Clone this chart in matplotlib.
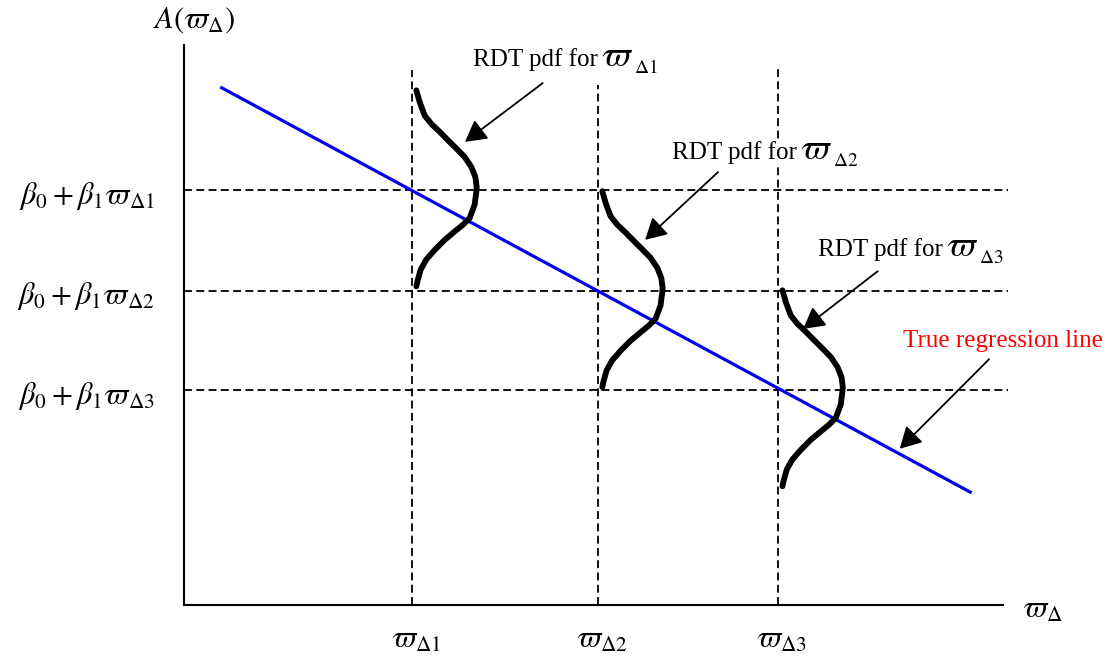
import numpy as np
import matplotlib.pyplot as plt

plt.rcParams['font.family'] = ['Liberation Serif', 'DejaVu Serif']
plt.rcParams['mathtext.fontset'] = 'stix'

# regression line A = b0 + b1 * w  (axis units 0..100)
b0 = 96.0
b1 = -0.79
line_x = [4.6, 96.0]

# the three omega values and their levels on the line
omegas = [27.8, 50.5, 72.5]
levels = [74.1, 56.1, 38.4]
vline_tops = [95.5, 92.9, 95.9]
x_labels = [r'$\varpi_{\Delta 1}$', r'$\varpi_{\Delta 2}$', r'$\varpi_{\Delta 3}$']
y_labels = [r'$\beta_0 + \beta_1\varpi_{\Delta 1}$',
            r'$\beta_0 + \beta_1\varpi_{\Delta 2}$',
            r'$\beta_0 + \beta_1\varpi_{\Delta 3}$']

# pdf shape: height above level, sideways offset
pdf_dy = [17.8, 15.7, 13.3, 11.8, 10.4, 8.9, 7.4, 5.9, 4.1, 2.3, 0.5,
          -0.2, -2.6, -5.0, -6.2, -7.4, -8.9, -10.7, -12.4, -14.2, -16.3, -17.2]
pdf_off = [0.57, 0.98, 1.59, 2.41, 3.42, 4.43, 5.46, 6.47, 7.29, 7.78, 7.94,
           7.90, 7.69, 7.08, 6.26, 5.25, 4.03, 2.81, 1.79, 1.10, 0.70, 0.57]

# annotation texts (left, baseline) and arrows (tail -> tip)
pdf_subs = [r'$\Delta1$', r'$\Delta2$', r'$\Delta3$']
note_x = [35.3, 59.6, 77.4]
note_y = [96.25, 79.6, 62.3]
reg_note = 'True regression line'
reg_note_pos = (87.8, 46.1)
arrow_tail = [(43.8, 93.2), (65.2, 77.3), (84.7, 59.6), (98.3, 43.9)]
arrow_tip = [(34.3, 82.7), (56.3, 65.2), (75.6, 49.3), (87.4, 27.9)]

fig = plt.figure(figsize=(11.16, 6.64), dpi=100)
ax = fig.add_axes([184 / 1116, 59 / 664, 819 / 1116, 560 / 664])
ax.set_xlim(0, 100)
ax.set_ylim(0, 100)
for s in ['top', 'right']:
    ax.spines[s].set_visible(False)
for s in ['left', 'bottom']:
    ax.spines[s].set_linewidth(1.5)
ax.set_xticks([])
ax.set_yticks([])

dash = (0, (4.4, 2.4))
for w, top in zip(omegas, vline_tops):
    ax.plot([w, w], [0, top], color='black', lw=1.3, linestyle=dash, clip_on=False)
for lv in levels:
    ax.plot([0, 100.6], [lv, lv], color='black', lw=1.3, linestyle=dash, clip_on=False)

lx = np.array(line_x)
ax.plot(lx, b0 + b1 * lx, color='#0000ee', lw=2.3, zorder=3)

for w, lv in zip(omegas, levels):
    ax.plot(w + np.array(pdf_off), lv + np.array(pdf_dy), color='black', lw=4.2,
            solid_capstyle='round', solid_joinstyle='round', zorder=4)

for w, lab in zip(omegas, x_labels):
    ax.text(w + 0.5, -6.3, lab, fontsize=22, ha='center', va='center', clip_on=False)
for lv, lab in zip(levels, y_labels):
    ax.text(-3.6, lv - 1.0, lab, fontsize=22, ha='right', va='center', clip_on=False)

ax.text(1.2, 104.5, r'$A(\varpi_{\Delta})$', fontsize=22, ha='center', va='center', clip_on=False)
ax.text(104.8, -0.9, r'$\varpi_{\Delta}$', fontsize=22, ha='center', va='center', clip_on=False)

# "RDT pdf for w_Dk": plain text, then a larger varpi, then a small subscript
wbox = dict(facecolor='white', edgecolor='none', pad=1.5)
for x, y, sub in zip(note_x, note_y, pdf_subs):
    ax.text(x, y, 'RDT pdf for ', fontsize=18, ha='left', va='baseline',
            bbox=wbox, zorder=6, clip_on=False)
    ax.annotate(r'$\varpi$', xy=(x, y), xytext=(92, 0), textcoords='offset points',
                fontsize=26, ha='left', va='baseline', bbox=wbox, zorder=6,
                annotation_clip=False)
    ax.annotate(sub, xy=(x, y), xytext=(116, -5), textcoords='offset points',
                fontsize=14, ha='left', va='baseline', zorder=6,
                annotation_clip=False)
ax.text(reg_note_pos[0], reg_note_pos[1], reg_note, fontsize=18, color='red',
        ha='left', va='baseline', clip_on=False)

for tail, tip in zip(arrow_tail, arrow_tip):
    ax.annotate('', xy=tip, xytext=tail,
                arrowprops=dict(arrowstyle='-|>,head_length=0.65,head_width=0.36',
                                mutation_scale=20, lw=1.3, color='black',
                                shrinkA=0, shrinkB=0),
                annotation_clip=False)

fig.savefig('out.png', dpi=100)
